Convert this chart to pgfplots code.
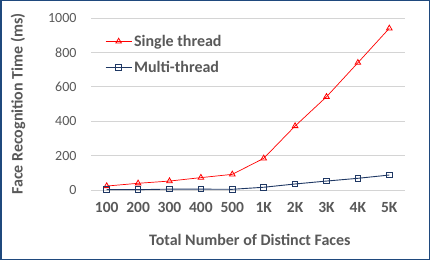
\documentclass[border=0pt]{standalone}
\usepackage{pgfplots}
\pgfplotsset{compat=1.18}
\usepackage{fontspec}
\setmainfont{Carlito}
\definecolor{txt}{RGB}{89,89,89}
\definecolor{sred}{RGB}{255,0,0}
\definecolor{mblue}{RGB}{31,56,100}
\definecolor{frameblue}{RGB}{31,73,125}
\begin{document}
\begin{tikzpicture}[x=1pt,y=1pt]
\draw[frameblue, line width=1.5pt, fill=white] (0.75,0.75) rectangle (429.25,259.25);
\begin{axis}[
  at={(91pt,70pt)}, anchor=south west,
  scale only axis, width=314pt, height=172pt,
  xmin=-0.5, xmax=9.5, ymin=0, ymax=1000,
  ytick={0,200,...,1000},
  xtick={0,...,9},
  xticklabels={100,200,300,400,500,1K,2K,3K,4K,5K},
  axis line style={draw=none},
  ymajorgrids, grid style={color=black!17, line width=0.8pt},
  major tick length=0pt,
  /pgf/number format/assume math mode=true,
  /pgf/number format/1000 sep={},
  ticklabel style={font=\fontsize{14}{16}\selectfont, text=txt},
  xticklabel style={font=\fontsize{15.5}{17}\selectfont\bfseries, yshift=-9pt},
  yticklabel style={xshift=-11pt},
  xlabel={Total Number of Distinct Faces},
  ylabel={Face Recognition Time (ms)},
  label style={font=\fontsize{16}{18}\selectfont\bfseries, text=txt},
  xlabel style={at={(axis description cs:0.506,-0.29)}, anchor=center},
  ylabel style={at={(axis description cs:-0.232,0.5)}, anchor=center},
  legend style={at={(axis description cs:0.035,0.925)}, anchor=north west, draw=none, fill=none,
    font=\fontsize{16}{18}\selectfont\bfseries, text=txt, row sep=9pt},
  legend cell align=left,
  legend image code/.code={\draw[mark repeat=2,mark phase=2,#1] plot coordinates {(0pt,0pt) (13pt,0pt) (26pt,0pt)};},
  clip=false,
]
\addplot[sred, line width=0.7pt, mark=triangle, mark size=3.2pt, mark options={line width=0.8pt}]
  coordinates {(0,23) (1,39) (2,52) (3,72) (4,91) (5,184) (6,372) (7,542) (8,740) (9,940)};
\addlegendentry{Single thread}
\addplot[mblue, line width=0.9pt, mark=square, mark size=2.8pt, mark options={line width=0.9pt}]
  coordinates {(0,2) (1,2) (2,5) (3,5) (4,4) (5,16) (6,35) (7,52) (8,68) (9,87)};
\addlegendentry{Multi-thread}
\end{axis}
\end{tikzpicture}
\end{document}
